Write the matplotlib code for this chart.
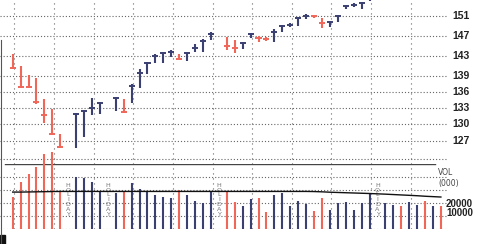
import matplotlib
matplotlib.use('Agg')
from matplotlib import pyplot as plt
from matplotlib.patches import Rectangle

# 数据：每个交易日（跳过假日）
holiday_slots = [7, 12, 26, 46]

highs = [143.26, 140.95, 139.21, 138.69, 134.60, 132.81, 128.28,
         132.02, 132.49, 134.94, 134.16,
         135.09, 134.66, 137.49, 140.31, 141.80, 143.26, 143.66, 144.05, 143.32,
         143.58, 145.26, 146.26, 147.75,
         146.79, 146.12, 145.66, 147.49, 147.00, 146.67, 148.30, 149.13, 149.54,
         150.92, 151.48, 151.27, 150.58, 150.08, 151.27, 153.38, 153.74, 154.08,
         156.50]
lows = [140.31, 136.67, 136.67, 133.73, 130.31, 128.11, 125.77,
        125.77, 127.81, 131.80, 131.94,
        132.44, 132.02, 133.86, 136.78, 139.46, 141.54, 141.48, 142.78, 142.27,
        141.94, 143.66, 143.77, 146.12,
        144.11, 143.46, 144.31, 146.53, 145.78, 145.98, 145.78, 147.69, 148.72,
        149.05, 150.50, 150.58, 148.51, 148.84, 149.87, 152.53, 152.90, 152.47,
        154.13]
closes = [140.62, 137.01, 136.86, 134.16, 131.71, 128.28, 125.94,
          131.89, 132.44, 132.93, 134.01,
          134.79, 132.31, 137.16, 139.65, 141.64, 142.86, 143.46, 143.71, 142.39,
          143.46, 144.57, 145.92, 147.28,
          144.97, 144.45, 145.46, 147.28, 146.47, 146.26, 147.81, 148.99, 149.19,
          150.71, 151.13, 151.06, 149.54, 149.81, 151.06, 153.17, 153.38, 153.87,
          155.80]

# 成交量 (000)
volumes = [24400, 36400, 42300, 47500, 57700, 59500, 28200,
           40200, 39200, 36200, 29500,
           27500, 28700, 35600, 30500, 28700, 26200, 24800, 23600, 30000,
           26200, 21800, 20200, 28700,
           28700, 21000, 17700, 22800, 23600, 12800, 26200, 27500, 17700,
           21800, 19200, 14100, 23600, 14600, 19800, 21000, 14600, 19800,
           27500,
           19800, 18500, 17900, 21000, 18500, 21800, 17900, 17900]
vol_avg = [28400, 28400, 28500, 28600, 28700, 28800, 28900,
           28900, 28900, 28900, 28900,
           28900, 28900, 28900, 28900, 28900, 28900, 28900, 28900, 28900,
           28900, 28900, 28900, 28900,
           28900, 28900, 28900, 28900, 28900, 28900, 28900, 28900, 28900,
           28900, 28900, 28800, 28600, 28300, 28100, 27900, 27700, 27500,
           27300,
           26800, 26500, 26200, 25900, 25600, 25200, 24900, 24600]
down = [1, 1, 1, 1, 1, 1, 1,
        0, 0, 0, 0,
        0, 1, 0, 0, 0, 0, 0, 0, 1,
        0, 0, 0, 0,
        1, 1, 0, 0, 1, 1, 0, 0, 0,
        0, 0, 1, 1, 0, 0, 0, 0, 0,
        0,
        0, 0, 1, 0, 0, 1, 0, 1]

price_grid = [124, 127, 130, 133, 136, 139, 143, 147, 151, 155]
price_labels = [127, 130, 133, 136, 139, 143, 147, 151, 155]
vol_grid = [0, 10000, 20000, 30000, 40000]

slots = [i for i in range(55) if i not in holiday_slots]
blue = '#3b4072'
red = '#f0675a'
colors = [red if d else blue for d in down]

fig = plt.figure(figsize=(4.78, 2.44), dpi=100)
W, H = 478, 244
ax_w = 447 / W
xlim = (-1.6, 54.77)

ax_p = fig.add_axes([0, (H - 164) / H, ax_w, 164 / H])
ax_v = fig.add_axes([0, (H - 229) / H, ax_w, 65 / H])
for ax in (ax_p, ax_v):
    ax.set_xlim(*xlim)
    ax.axis('off')
    ax.patch.set_alpha(0)

ax_p.set_yscale('log')
ax_p.set_ylim(123.07, 154.45)
ax_v.set_ylim(0, 50000)

# 网格
for k in range(11):
    gx = 5 * k + 0.2
    for ax in (ax_p, ax_v):
        ax.axvline(gx, color='#666666', lw=0.8, dashes=(1, 3.5), zorder=0)
for p in price_grid:
    ax_p.axhline(p, color='#666666', lw=0.8, dashes=(1, 1.8), zorder=0)
for v in vol_grid:
    ax_v.axhline(v, color='#666666', lw=0.8, dashes=(1, 1.8), zorder=0)
ax_v.axhline(50000, xmin=5 / 447, xmax=435 / 447, color='#444444', lw=1.0)

# 价格线
n = len(highs)
ax_p.vlines(slots[:n], lows, highs, colors=colors[:n], lw=1.5, zorder=3)
ax_p.hlines(closes, [s - 0.38 for s in slots[:n]], [s + 0.38 for s in slots[:n]],
            colors=colors[:n], lw=1.4, zorder=3)

# 成交量
ax_v.vlines(slots, 0, volumes, colors=colors, lw=1.5, zorder=3, clip_on=False)
ax_v.plot(slots, vol_avg, color='#111111', lw=1.0, zorder=4)

for hs in holiday_slots:
    ax_v.text(hs, 35500, '\n'.join('HOLIDAY'), fontsize=4.6, linespacing=0.95,
              color='#777777', ha='center', va='top')

lab_font = dict(family=['Liberation Sans', 'DejaVu Sans'], weight='bold',
                color='#222222')
tp = ax_p.get_yaxis_transform()
for p in price_labels:
    ax_p.text(452 / 447, p, str(p), transform=tp, fontsize=7.5, ha='left',
              va='center', clip_on=False, **lab_font)

tv = ax_v.get_yaxis_transform()
ax_v.text(438 / 447, 43800, 'VOL', transform=tv, fontsize=5.5, color='#444444',
          ha='left', va='center')
ax_v.text(438 / 447, 35000, '(000)', transform=tv, fontsize=5.5, color='#444444',
          ha='left', va='center')
ax_v.text(446 / 447, 19300, '20000', transform=tv, fontsize=7, ha='left',
          va='center', **lab_font)
ax_v.text(446 / 447, 12600, '10000', transform=tv, fontsize=7, ha='left',
          va='center', **lab_font)

# 左下角黑块
fig.patches.append(Rectangle((0, 0), 5 / W, 9 / H, transform=fig.transFigure,
                             color='#111111'))
fig.lines.append(plt.Line2D([0.5 / W, 0.5 / W], [0, 1 - 40 / H],
                            transform=fig.transFigure, color='#555555', lw=0.8))

fig.savefig('out.png', dpi=100)
